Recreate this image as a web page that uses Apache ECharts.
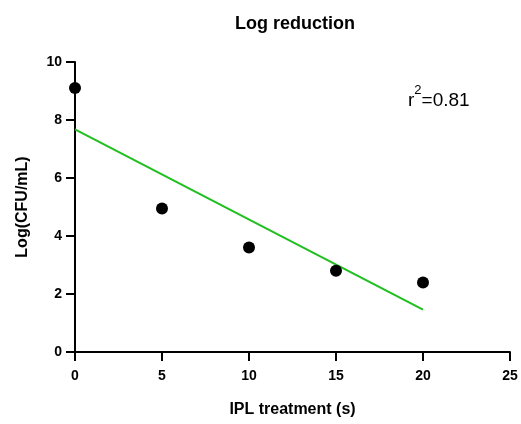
<!DOCTYPE html>
<html><head><meta charset="utf-8">
<script src="https://cdn.jsdelivr.net/npm/echarts@6/dist/echarts.min.js"></script>
<style>html,body{margin:0;padding:0;background:#fff}#c{width:521px;height:424px}</style>
</head><body><div id="c"></div>
<script>
var timeS = [0, 5, 10, 15, 20];
var logCfu = [9.1, 4.95, 3.6, 2.8, 2.4];
var fitX = [0, 20];
var fitY = [7.68, 1.46];
var xTicks = [0, 5, 10, 15, 20, 25];
var yTicks = [0, 2, 4, 6, 8, 10];
var rSquared = '0.81';

var chart = echarts.init(document.getElementById('c'), null, {renderer: 'canvas'});
var pts = timeS.map(function (x, i) { return [x, logCfu[i]]; });
var fit = fitX.map(function (x, i) { return [x, fitY[i]]; });
var font = 'Liberation Sans, Arial, sans-serif';
chart.setOption({
  animation: false,
  title: {
    text: 'Log reduction', left: 290, top: 10, textAlign: 'center',
    textStyle: {fontFamily: font, fontWeight: 'bold', fontSize: 18, color: '#000'}
  },
  grid: {left: 75, right: 11, top: 62, bottom: 72, outerBoundsMode: 'none'},
  xAxis: {
    type: 'value', min: xTicks[0], max: xTicks[xTicks.length - 1], interval: 5,
    name: 'IPL treatment (s)', nameLocation: 'middle', nameGap: 50,
    nameTextStyle: {fontFamily: font, fontWeight: 'bold', fontSize: 16, color: '#000'},
    axisLine: {show: true, onZero: false, lineStyle: {color: '#000', width: 2}},
    axisTick: {show: true, inside: false, length: 9, lineStyle: {color: '#000', width: 2}},
    axisLabel: {fontFamily: font, fontWeight: 'bold', fontSize: 14, color: '#000', margin: 17},
    splitLine: {show: false}
  },
  yAxis: {
    type: 'value', min: yTicks[0], max: yTicks[yTicks.length - 1], interval: 2,
    name: 'Log(CFU/mL)', nameLocation: 'middle', nameGap: 44, nameRotate: 90,
    nameTextStyle: {fontFamily: font, fontWeight: 'bold', fontSize: 16, color: '#000'},
    axisLine: {show: true, onZero: false, lineStyle: {color: '#000', width: 2}},
    axisTick: {show: true, inside: false, length: 9, lineStyle: {color: '#000', width: 2}},
    axisLabel: {fontFamily: font, fontWeight: 'bold', fontSize: 14, color: '#000', margin: 13},
    splitLine: {show: false}
  },
  graphic: [{
    type: 'text', left: 408, top: 84,
    style: {
      text: '{b|r}{s|2}{b|=' + rSquared + '}',
      rich: {
        b: {fontFamily: font, fontSize: 19, color: '#000', verticalAlign: 'bottom', lineHeight: 26},
        s: {fontFamily: font, fontSize: 13, color: '#000', verticalAlign: 'top', lineHeight: 26}
      }
    }
  }],
  series: [{
    type: 'line', data: fit, symbol: 'none', z: 2,
    lineStyle: {color: '#1fbf1f', width: 2}
  }, {
    type: 'scatter', data: pts, symbol: 'circle', symbolSize: 12, z: 3,
    itemStyle: {color: '#000', opacity: 1}
  }]
});
</script></body></html>
